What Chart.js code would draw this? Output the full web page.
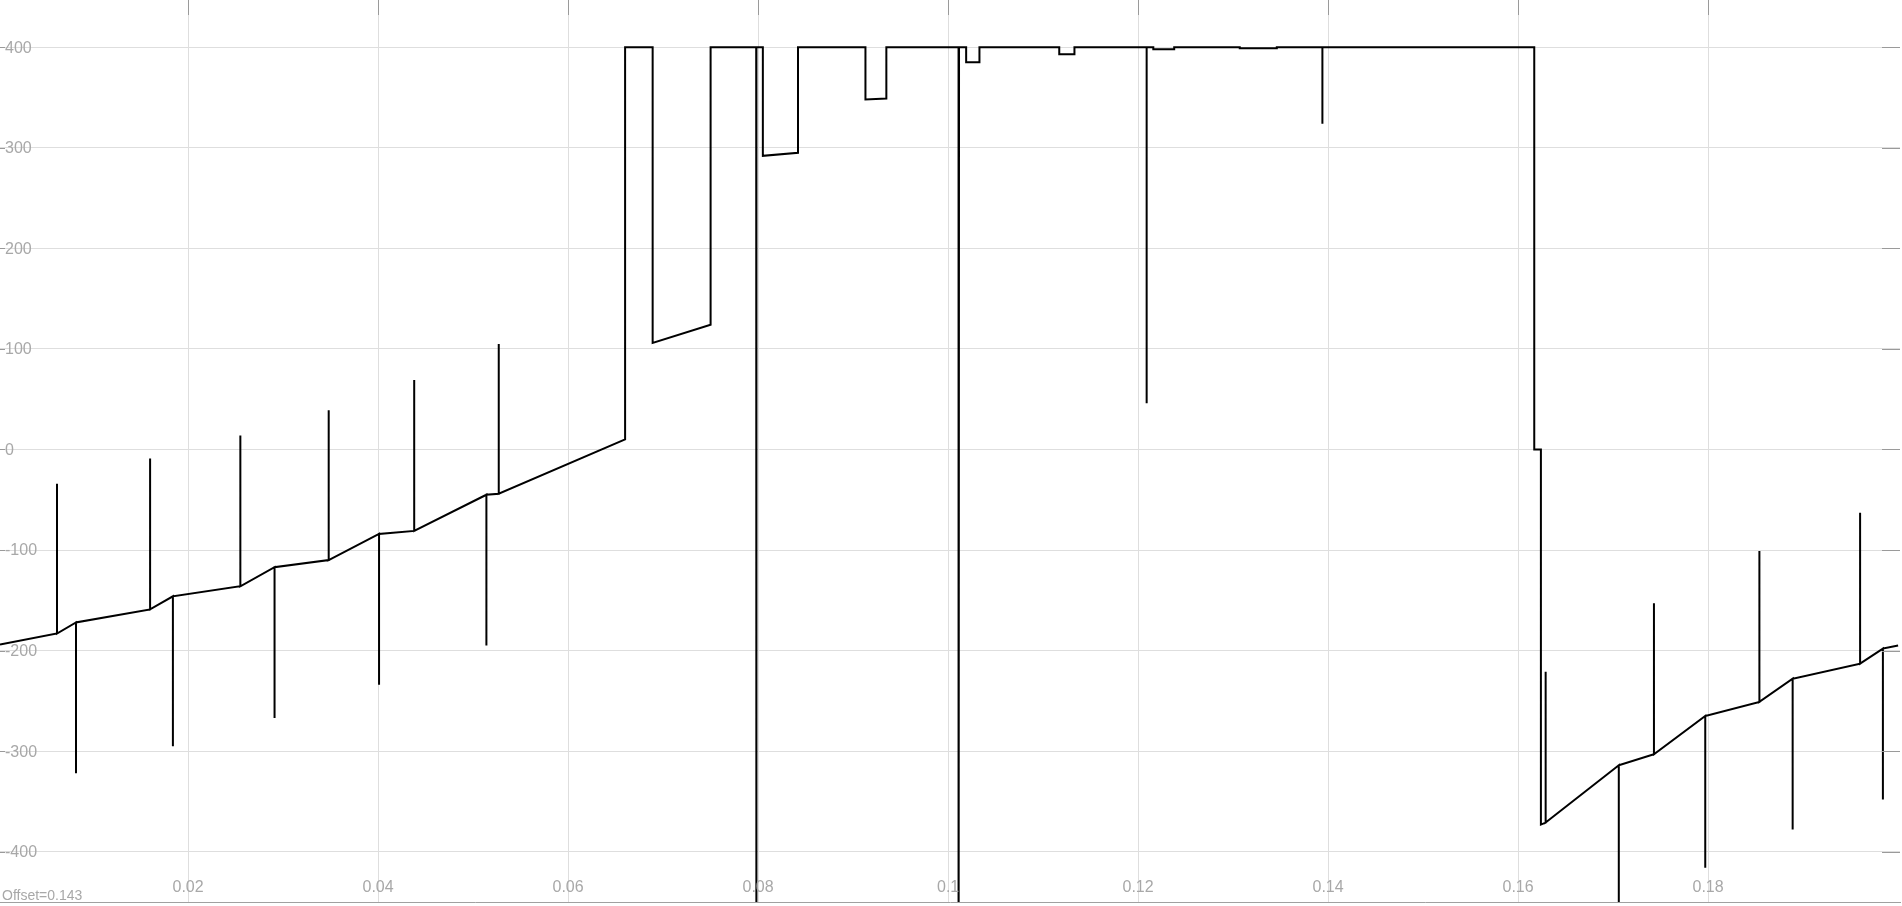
<!DOCTYPE html>
<html>
<head>
<meta charset="utf-8">
<script src="https://cdn.jsdelivr.net/npm/chart.js@4/dist/chart.umd.min.js"></script>
<style>
    body { margin: 0; background: #fff; }
    canvas { display: block; }
</style>
</head>
<body>
<canvas id="myChart" width="1902" height="906"></canvas>
<script>
// trace: time (s) and value
var traceTime = [
    0.0002, 0.0062, 0.0062, 0.0062, 0.0082, 0.0082, 0.0082, 0.0160, 0.0160, 0.0160,
    0.0184, 0.0184, 0.0184, 0.0255, 0.0255, 0.0255, 0.0291, 0.0291, 0.0291, 0.0348,
    0.0348, 0.0348, 0.0401, 0.0401, 0.0401, 0.0438, 0.0438, 0.0438, 0.0514, 0.0514,
    0.0514, 0.0527, 0.0527, 0.0527, 0.0660, 0.0660, 0.0689, 0.0689, 0.0750, 0.0750,
    0.0798, 0.0798, 0.07985, 0.0805, 0.0805, 0.0842, 0.0842, 0.0913, 0.0913, 0.0935,
    0.0935, 0.1011, 0.1011, 0.10115, 0.1019, 0.1019, 0.1033, 0.1033, 0.1117, 0.1117,
    0.1133, 0.1133, 0.1209, 0.1209, 0.1209, 0.1216, 0.1216, 0.1238, 0.1238, 0.1307,
    0.1307, 0.1346, 0.1346, 0.1394, 0.1394, 0.1394, 0.1617, 0.1617, 0.1624, 0.1624,
    0.1629, 0.1629, 0.1629, 0.1706, 0.1706, 0.1706, 0.1743, 0.1743, 0.1743, 0.1797,
    0.1797, 0.1797, 0.1854, 0.1854, 0.1854, 0.1889, 0.1889, 0.1889, 0.1960, 0.1960,
    0.1960, 0.1984, 0.1984, 0.1984, 0.2000
];
var traceValue = [
    -194, -183, -34, -183, -172, -322, -172, -159, -9, -159,
    -146, -295, -146, -136, 14, -136, -117, -267, -117, -110,
    39, -110, -84, -234, -84, -81, 69, -81, -45, -195,
    -45, -44, 105, -44, 10, 400, 400, 106, 124, 400,
    400, -700, 400, 400, 292, 295, 400, 400, 348, 349,
    400, 400, -700, 400, 400, 385, 385, 400, 400, 393,
    393, 400, 400, 46, 400, 400, 398, 398, 400, 400,
    399, 399, 400, 400, 324, 400, 400, 0, 0, -373,
    -371, -221, -371, -314, -600, -314, -303, -153, -303, -265,
    -416, -265, -251, -101, -251, -228, -378, -228, -213, -63,
    -213, -198, -348, -198, -195
];

var xTicks = [0.02, 0.04, 0.06, 0.08, 0.1, 0.12, 0.14, 0.16, 0.18];
var yTicks = [-400, -300, -200, -100, 0, 100, 200, 300, 400];
var offsetText = 'Offset=0.143';

var labelColor = '#a8a8a8';
var gridColor = '#dedede';
var tickColor = '#9a9a9a';
var labelFont = '"Liberation Sans", Arial, sans-serif';

var points = [];
for (var i = 0; i < traceTime.length; i++) {
    points.push({ x: traceTime[i], y: traceValue[i] });
}

// tick marks and labels drawn inside the plot, plus the offset note
var axisDecor = {
    id: 'axisDecor',
    afterDraw: function (chart) {
        var ctx = chart.ctx;
        var area = chart.chartArea;
        var xs = chart.scales.x;
        var ys = chart.scales.y;
        ctx.save();
        ctx.strokeStyle = tickColor;
        ctx.lineWidth = 1;
        ctx.beginPath();
        xs.ticks.forEach(function (t) {
            var px = Math.round(xs.getPixelForValue(t.value)) + 0.5;
            ctx.moveTo(px, area.top);
            ctx.lineTo(px, area.top + 15);
        });
        ys.ticks.forEach(function (t) {
            var py = Math.round(ys.getPixelForValue(t.value)) + 0.5;
            ctx.moveTo(area.left, py);
            ctx.lineTo(area.left + 5, py);
            ctx.moveTo(area.right - 18, py);
            ctx.lineTo(area.right, py);
        });
        ctx.stroke();

        ctx.fillStyle = labelColor;
        ctx.font = '16px ' + labelFont;
        ctx.textAlign = 'center';
        ctx.textBaseline = 'alphabetic';
        xs.ticks.forEach(function (t) {
            ctx.fillText(String(t.value), xs.getPixelForValue(t.value), area.bottom - 10);
        });

        ctx.textAlign = 'left';
        ctx.textBaseline = 'middle';
        ys.ticks.forEach(function (t) {
            ctx.fillText(String(t.value), area.left + 5, ys.getPixelForValue(t.value) + 1);
        });

        ctx.font = '14px ' + labelFont;
        ctx.textBaseline = 'alphabetic';
        ctx.fillText(offsetText, 2, area.bottom - 2);
        ctx.restore();
    }
};

var ctx = document.getElementById('myChart').getContext('2d');
var chart = new Chart(ctx, {
    type: 'scatter',
    data: {
        datasets: [{
            data: points,
            showLine: true,
            borderColor: '#000',
            borderWidth: 2,
            pointRadius: 0,
            pointHoverRadius: 0,
            tension: 0,
            fill: false
        }]
    },
    options: {
        responsive: false,
        devicePixelRatio: 1,
        animation: false,
        events: [],
        layout: {
            autoPadding: false,
            padding: { left: 0, right: 2, top: 0, bottom: 4 }
        },
        plugins: {
            legend: { display: false },
            tooltip: { enabled: false }
        },
        scales: {
            x: {
                type: 'linear',
                min: 0.0002,
                max: 0.2002,
                afterBuildTicks: function (scale) {
                    scale.ticks = xTicks.map(function (v) { return { value: v }; });
                },
                ticks: { display: false },
                grid: { color: gridColor, drawTicks: false },
                border: { display: true, color: '#a0a0a0' }
            },
            y: {
                type: 'linear',
                min: -450,
                max: 447,
                afterBuildTicks: function (scale) {
                    scale.ticks = yTicks.map(function (v) { return { value: v }; });
                },
                ticks: { display: false },
                grid: { color: gridColor, drawTicks: false },
                border: { display: false }
            }
        }
    },
    plugins: [axisDecor]
});
</script>
</body>
</html>
